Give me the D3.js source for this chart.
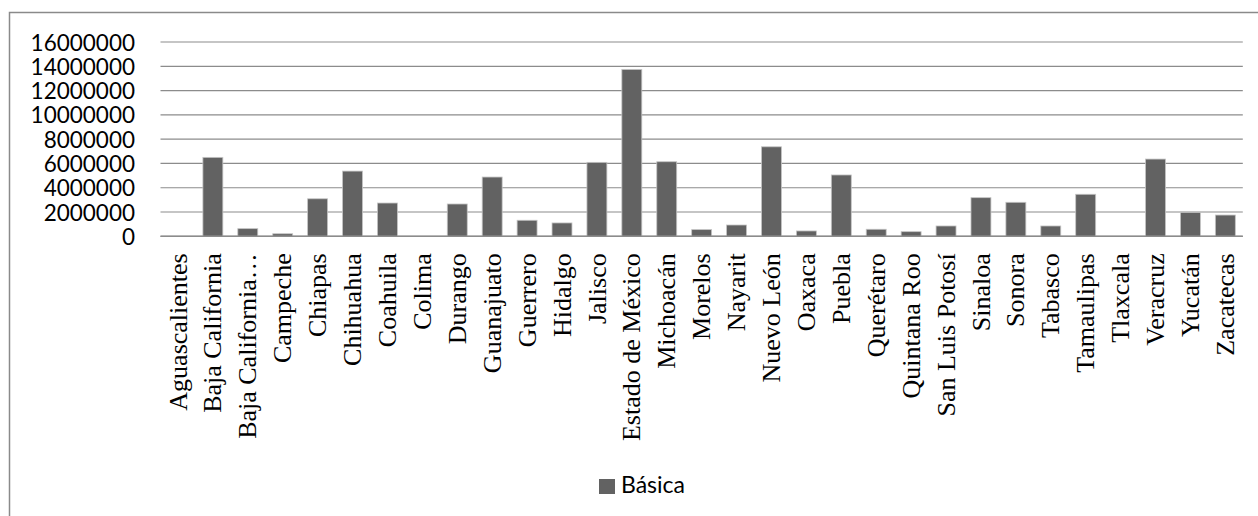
<!DOCTYPE html>
<html>
<head>
<meta charset="utf-8">
<script src="https://cdn.jsdelivr.net/npm/d3@7"></script>
<style>
  html, body { margin: 0; padding: 0; background: #fff; }
  svg { display: block; }
</style>
</head>
<body>
<svg id="chart" width="1258" height="516"></svg>
<script>
// Matrícula de educación básica por entidad federativa
const states = [
  "Aguascalientes", "Baja California", "Baja California…", "Campeche", "Chiapas",
  "Chihuahua", "Coahuila", "Colima", "Durango", "Guanajuato", "Guerrero", "Hidalgo",
  "Jalisco", "Estado de México", "Michoacán", "Morelos", "Nayarit", "Nuevo León",
  "Oaxaca", "Puebla", "Querétaro", "Quintana Roo", "San Luis Potosí", "Sinaloa",
  "Sonora", "Tabasco", "Tamaulipas", "Tlaxcala", "Veracruz", "Yucatán", "Zacatecas"
];
const basica = [
  0, 6500000, 630000, 210000, 3090000,
  5370000, 2740000, 0, 2660000, 4880000, 1320000, 1100000,
  6090000, 13740000, 6140000, 550000, 930000, 7370000,
  440000, 5050000, 580000, 380000, 850000, 3180000,
  2800000, 850000, 3460000, 0, 6360000, 1970000, 1750000
];
const yTicks = [0, 2000000, 4000000, 6000000, 8000000, 10000000, 12000000, 14000000, 16000000];
const seriesName = "Básica";

const svg = d3.select("#chart");
const plot = { left: 160.5, right: 1242.8, top: 42, bottom: 236.3 };

// outer chart frame
svg.append("rect")
  .attr("x", 9.5).attr("y", 12.5)
  .attr("width", 1280).attr("height", 540)
  .attr("fill", "none").attr("stroke", "#8a8a8a").attr("stroke-width", 1.5);

const x = d3.scaleBand().domain(states).range([plot.left, plot.right]).padding(0);
const y = d3.scaleLinear().domain([0, 16000000]).range([plot.bottom, plot.top]);

// gridlines
svg.append("g").selectAll("line").data(yTicks).join("line")
  .attr("x1", plot.left).attr("x2", plot.right)
  .attr("y1", d => y(d)).attr("y2", d => y(d))
  .attr("stroke", "#8c8c8c").attr("stroke-width", 1.2);

// y axis labels
const yAxis = d3.axisLeft(y).tickValues(yTicks).tickFormat(d3.format("d")).tickSize(0).tickPadding(0);
const yg = svg.append("g").attr("transform", "translate(135,0)").call(yAxis);
yg.select(".domain").remove();
yg.selectAll("text")
  .attr("font-family", "Lato, 'Open Sans', sans-serif")
  .attr("font-size", 22.5).attr("fill", "#000").attr("dy", "0.36em");

// bars
const barW = x.bandwidth() / 1.75;
svg.append("g").selectAll("rect").data(states.map((s, i) => ({ s, v: basica[i] })))
  .join("rect")
  .filter(d => d.v > 0)
  .attr("x", d => x(d.s) + (x.bandwidth() - barW) / 2)
  .attr("y", d => y(d.v))
  .attr("width", barW)
  .attr("height", d => y(0) - y(d.v))
  .attr("fill", "#626262")
  .attr("stroke", "#c4c4c4").attr("stroke-width", 0.8);

// baseline
svg.append("line")
  .attr("x1", plot.left).attr("x2", plot.right)
  .attr("y1", y(0)).attr("y2", y(0))
  .attr("stroke", "#8c8c8c").attr("stroke-width", 1.4);

// category labels, rotated
const xAxis = d3.axisBottom(x).tickSize(0).tickPadding(0);
const xg = svg.append("g").attr("transform", `translate(0,${plot.bottom})`).call(xAxis);
xg.select(".domain").remove();
xg.selectAll("text")
  .attr("font-family", "'Liberation Serif', 'Times New Roman', serif")
  .attr("font-size", 26).attr("fill", "#000")
  .attr("text-anchor", "end")
  .attr("transform", "rotate(-90)")
  .attr("x", -17).attr("y", 0).attr("dy", "0.33em");

// legend
const lg = svg.append("g");
lg.append("rect").attr("x", 599).attr("y", 479).attr("width", 16).attr("height", 15).attr("fill", "#626262");
lg.append("text").attr("x", 621).attr("y", 493)
  .attr("font-family", "Lato, 'Open Sans', sans-serif").attr("font-size", 23).attr("fill", "#000")
  .text(seriesName);
</script>
</body>
</html>
